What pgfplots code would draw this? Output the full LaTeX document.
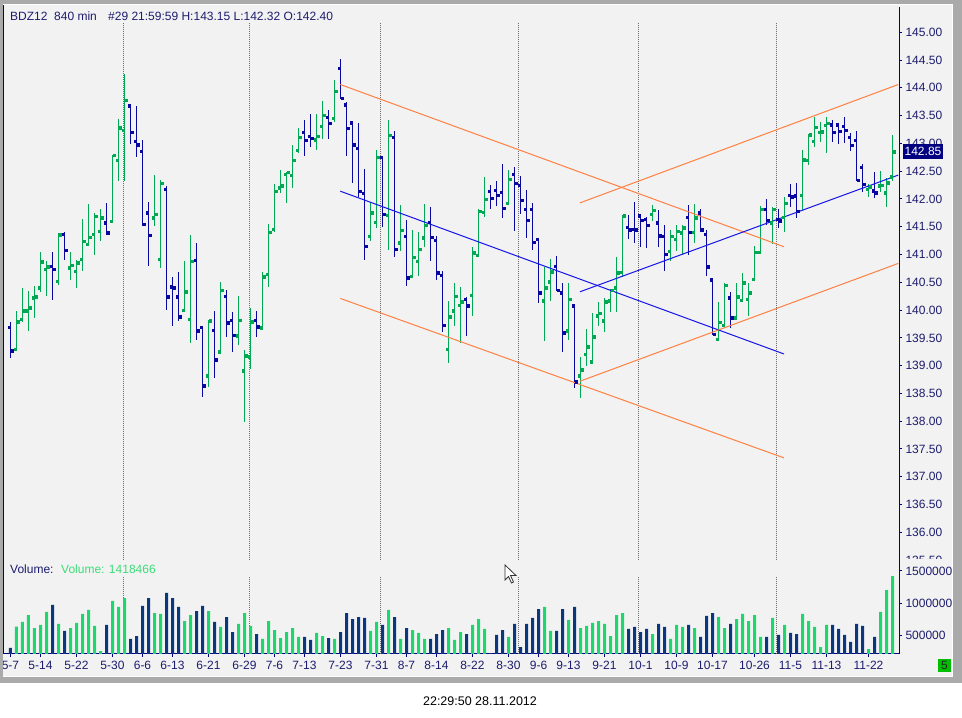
\documentclass[border=0pt]{standalone}
\usepackage{fontspec}
\setmainfont{Liberation Sans}
\usepackage{pgfplots}
\usepackage{pgfplotstable}
\pgfplotsset{compat=1.18}
\definecolor{bg}{RGB}{242,242,242}
\definecolor{framegray}{RGB}{170,170,170}
\definecolor{axisnavy}{RGB}{0,0,128}
\definecolor{txtnavy}{RGB}{28,28,110}
\definecolor{pgreen}{RGB}{0,168,84}
\definecolor{pblue}{RGB}{8,8,160}
\definecolor{vgreen}{RGB}{30,214,110}
\definecolor{vblue}{RGB}{10,55,125}
\definecolor{chorange}{RGB}{255,128,64}
\definecolor{chblue}{RGB}{20,20,235}
\definecolor{gridgray}{RGB}{110,110,110}
\definecolor{volgreentxt}{RGB}{60,220,120}
\definecolor{statusgreen}{RGB}{0,190,0}
\newcommand\tf{\fontsize{12}{14.4}\selectfont}

% up bars (close >= open): index, open, high, low, close, volume
\pgfplotstableread{
i o h l c v
1 139.30 139.99 139.29 139.79 634000
2 139.84 140.39 139.78 139.99 707000
3 139.99 140.35 139.62 140.04 815000
4 140.22 140.44 139.85 140.24 613000
5 140.40 141.05 140.32 140.87 660000
6 140.74 140.89 140.25 140.78 862000
8 140.52 141.39 140.46 141.36 676000
10 140.76 141.05 140.54 140.81 613000
11 140.70 140.91 140.39 140.85 691000
12 140.92 141.64 140.71 141.24 831000
13 141.19 141.91 141.16 141.31 893000
14 141.37 141.75 141.00 141.69 645000
15 141.42 141.82 141.25 141.66 256000
17 141.60 142.80 141.59 142.79 1033000
18 142.70 143.44 142.32 143.28 940000
19 143.24 144.25 142.32 143.78 1079000
24 141.66 142.43 141.52 141.73 846000
25 140.92 142.34 140.75 142.28 831000
29 140.00 140.89 139.96 140.33 722000
30 139.84 141.36 139.40 140.88 815000
33 138.82 139.82 138.61 139.81 877000
35 139.25 140.51 139.21 140.36 629000
38 139.54 140.26 139.37 139.82 676000
39 138.91 139.29 137.99 139.18 846000
40 139.16 140.04 138.94 139.79 645000
42 139.68 140.69 139.64 140.60 443000
43 140.65 141.55 140.41 141.40 722000
44 141.46 142.27 141.41 142.14 582000
45 142.20 142.53 142.11 142.24 458000
46 142.45 142.49 141.92 142.48 551000
47 142.43 142.97 142.20 142.70 613000
48 142.88 143.28 142.83 143.11 474000
51 143.07 143.53 142.88 143.13 536000
52 143.31 143.76 143.08 143.51 489000
54 143.45 144.14 143.38 143.94 443000
60 141.33 141.92 141.25 141.75 567000
61 141.58 142.88 141.47 142.75 707000
63 141.71 143.42 141.09 143.15 893000
65 141.21 141.89 141.07 141.44 443000
67 140.61 141.44 140.59 140.95 582000
68 140.88 141.40 140.62 141.10 536000
69 141.30 141.91 141.13 141.53 443000
73 139.30 140.16 139.04 139.88 613000
74 139.99 140.48 139.71 140.25 427000
75 140.09 140.42 139.40 140.15 551000
77 140.27 141.13 139.90 141.03 660000
78 140.99 141.82 140.98 141.78 753000
79 141.76 142.40 141.68 142.00 598000
83 141.92 142.52 141.90 142.36 474000
89 140.17 140.78 139.44 140.40 940000
90 140.51 140.92 140.16 140.69 567000
93 139.63 140.48 139.47 140.20 738000
95 138.82 139.15 138.41 138.93 613000
96 139.21 139.66 139.00 139.34 645000
97 139.07 139.95 139.03 139.52 691000
98 139.90 140.15 139.72 139.94 722000
99 139.81 140.21 139.60 140.15 676000
100 140.17 140.38 139.96 140.36 489000
101 140.40 140.95 139.96 140.67 815000
102 140.68 141.72 140.59 141.70 846000
107 141.73 141.90 141.61 141.80 520000
110 141.06 141.45 140.89 141.33 443000
111 141.28 141.54 141.06 141.42 660000
112 141.39 141.53 140.99 141.48 629000
114 141.40 141.91 141.21 141.66 613000
118 139.48 140.14 139.45 139.78 784000
119 139.73 140.48 139.72 140.45 613000
121 139.86 140.49 139.83 140.24 753000
122 140.18 140.66 140.17 140.49 831000
123 140.20 140.48 139.89 140.31 722000
124 140.56 141.16 140.53 141.04 815000
125 141.04 141.87 141.02 141.82 474000
127 141.57 141.86 141.19 141.82 769000
129 141.67 142.04 141.40 141.92 660000
132 142.07 142.88 141.80 142.71 831000
133 142.70 143.17 142.62 143.16 722000
134 143.04 143.48 142.93 143.29 629000
135 143.20 143.38 143.03 143.21 318000
136 143.33 143.48 142.83 143.36 660000
143 142.18 142.27 142.03 142.22 287000
145 142.24 142.50 142.13 142.25 862000
146 142.11 142.37 141.85 142.29 1203000
147 142.40 143.15 142.32 142.85 1418466
}\uptab

% down bars (close < open)
\pgfplotstableread{
i o h l c v
0 139.69 139.79 139.13 139.27 303000
7 140.79 141.05 140.19 140.74 971000
9 141.37 141.41 140.91 141.08 567000
16 141.57 141.93 141.36 141.39 660000
20 143.68 143.68 142.99 143.20 443000
21 143.04 143.68 142.76 142.98 489000
22 142.86 143.06 141.51 141.55 955000
23 141.75 141.95 140.80 141.35 1079000
26 142.18 142.24 140.01 140.24 1157000
27 140.42 140.60 139.71 140.40 1079000
28 140.24 140.69 139.80 139.88 940000
31 140.90 141.21 139.46 139.63 877000
32 139.69 139.72 138.43 138.64 955000
34 139.64 139.99 138.78 139.11 707000
36 140.25 140.37 139.51 139.77 784000
37 139.82 139.97 139.24 139.55 551000
41 139.82 139.99 139.51 139.70 520000
49 143.20 143.42 142.77 143.06 474000
50 143.13 143.53 142.94 143.09 427000
53 143.47 143.60 143.08 143.36 458000
55 144.35 144.52 143.80 143.81 551000
56 143.70 143.74 142.77 143.27 846000
57 143.37 143.38 142.28 142.98 753000
58 142.91 143.37 142.03 142.14 784000
59 142.10 142.54 140.91 141.15 769000
62 142.75 142.77 141.49 141.73 660000
64 143.11 143.22 140.95 141.10 784000
66 141.33 141.62 140.43 140.58 613000
70 141.58 141.85 140.88 141.31 443000
71 141.26 141.33 140.54 140.67 520000
72 140.63 140.71 139.60 139.73 582000
76 140.20 140.24 139.53 140.08 520000
80 142.14 142.25 141.82 142.01 225000
81 142.16 142.32 141.88 142.07 505000
82 142.12 142.63 141.65 141.83 582000
84 142.45 142.58 141.43 142.28 676000
85 142.25 142.42 141.73 141.98 318000
86 141.82 142.16 141.29 141.62 676000
87 141.82 141.92 141.09 141.22 769000
88 141.28 141.30 140.12 140.31 908000
91 140.79 140.98 140.34 140.36 567000
92 140.31 140.49 139.24 139.59 908000
94 140.08 140.09 138.60 138.71 940000
103 141.49 141.71 141.28 141.45 598000
104 141.46 141.95 141.20 141.45 629000
105 141.70 141.73 141.13 141.62 551000
106 141.64 141.67 141.12 141.53 598000
108 141.57 141.80 141.13 141.34 676000
109 141.33 141.54 140.71 141.01 629000
113 141.67 141.89 141.00 141.40 660000
115 141.75 141.82 141.41 141.45 474000
116 141.37 141.44 140.62 140.78 800000
117 140.55 140.58 139.55 139.57 846000
120 140.22 140.33 139.68 139.86 676000
126 141.82 142.00 141.54 141.62 474000
128 141.64 141.82 141.47 141.61 505000
130 142.07 142.27 141.86 142.04 536000
131 142.06 142.28 141.66 141.78 520000
137 143.34 143.42 143.02 143.20 660000
138 143.34 143.35 142.99 143.22 598000
139 143.31 143.47 143.00 143.24 505000
140 143.11 143.19 142.87 142.97 396000
141 143.06 143.23 142.33 142.34 676000
142 142.57 142.63 142.13 142.27 645000
144 142.15 142.49 142.01 142.11 474000
}\downtab

\pgfplotsset{
  hl/.style={only marks, mark=*, mark size=0pt, mark options={draw=none, fill=none}, forget plot,
    error bars/.cd, y dir=both, y explicit, error mark=none,
    error bar style={#1, line width=1pt, solid}},
  oc/.style={color=#1, only marks, mark=square*, mark size=1.25pt, forget plot,
    mark options={solid, draw=none, fill=#1}},
}

\begin{document}
\begin{tikzpicture}[x=1pt,y=1pt]
\useasboundingbox (0,0) rectangle (962,718);
\fill[white] (0,0) rectangle (962,718);
\fill[framegray] (0,35) rectangle (962,718);
\fill[white] (3,41) rectangle (953,714);
\fill[bg] (3,42) rectangle (952,713);

% ---------------- price panel ----------------
\begin{axis}[
  at={(4pt,156pt)}, anchor=south west,
  scale only axis, width=895pt, height=555pt,
  xmin=-1.0833, xmax=148.0833,
  ymin=135.4662, ymax=145.4554,
  axis x line=none, axis y line=right,
  y axis line style={-, draw=axisnavy, line width=1pt},
  xtick=\empty,
  ytick={135.5,136,136.5,137,137.5,138,138.5,139,139.5,140,140.5,141,141.5,142,142.5,143,143.5,144,144.5,145},
  tick align=outside, major tick length=3pt,
  ytick style={draw=axisnavy, line width=1pt},
  yticklabel style={font=\tf, text=txtnavy,
    /pgf/number format/.cd, fixed, fixed zerofill, precision=2, assume math mode=true},
]
\pgfplotsinvokeforeach{18.75,39.75,61.65,84.65,104.7,127.7}{
  \draw[gridgray, line width=1pt, dash pattern=on 1pt off 1pt] (axis cs:#1,135.502) -- (axis cs:#1,145.173);
}
% high-low lines
\addplot[hl=pgreen] table[x=i, y expr={(\thisrow{h}+\thisrow{l})/2}, y error expr={(\thisrow{h}-\thisrow{l})/2}] {\uptab};
\addplot[hl=pblue] table[x=i, y expr={(\thisrow{h}+\thisrow{l})/2}, y error expr={(\thisrow{h}-\thisrow{l})/2}] {\downtab};
% open (left) and close (right) ticks
\addplot[oc=pgreen] table[x expr={\thisrow{i}-0.25}, y=o] {\uptab};
\addplot[oc=pgreen] table[x expr={\thisrow{i}+0.25}, y=c] {\uptab};
\addplot[oc=pblue] table[x expr={\thisrow{i}-0.25}, y=o] {\downtab};
\addplot[oc=pblue] table[x expr={\thisrow{i}+0.25}, y=c] {\downtab};
% trend channels
\addplot[chorange, line width=1pt, forget plot] coordinates {(54.97,144.06) (128.92,141.14)};
\addplot[chorange, line width=1pt, forget plot] coordinates {(54.97,140.21) (128.92,137.34)};
\addplot[chblue, line width=1pt, forget plot] coordinates {(54.97,142.14) (128.92,139.21)};
\addplot[chorange, line width=1pt, forget plot] coordinates {(94.92,141.93) (147.95,144.06)};
\addplot[chorange, line width=1pt, forget plot] coordinates {(94.92,138.72) (147.95,140.84)};
\addplot[chblue, line width=1pt, forget plot] coordinates {(94.92,140.33) (147.95,142.43)};
\end{axis}

% cut the lowest price label as in the original
\fill[bg] (900,150) rectangle (952,158.5);

% ---------------- volume panel ----------------
\begin{axis}[
  at={(4pt,64pt)}, anchor=south west,
  scale only axis, width=895pt, height=92pt,
  xmin=-1.0833, xmax=148.0833,
  ymin=209626, ymax=1638202,
  axis x line=bottom, axis y line=right,
  x axis line style={-, draw=axisnavy, line width=1pt},
  y axis line style={-, draw=axisnavy, line width=1pt},
  xtick={0,5,11,17,22,27,33,39,44,49,55,61,66,71,77,83,88,93,99,105,111,117,124,130,136,143},
  xticklabels={5-7,5-14,5-22,5-30,6-6,6-13,6-21,6-29,7-6,7-13,7-23,7-31,8-7,8-14,8-22,8-30,9-6,9-13,9-21,10-1,10-9,10-17,10-26,11-5,11-13,11-22},
  ytick={500000,1000000,1500000},
  scaled y ticks=false,
  tick align=outside, major tick length=3pt,
  tick style={draw=axisnavy, line width=1pt},
  xticklabel style={font=\tf, text=txtnavy, yshift=-1pt},
  yticklabel style={font=\tf, text=txtnavy,
    /pgf/number format/.cd, fixed, precision=0, 1000 sep={}, assume math mode=true},
]
\pgfplotsinvokeforeach{18.75,39.75,61.65,84.65,104.7,127.7}{
  \draw[gridgray, line width=1pt, dash pattern=on 1pt off 1pt] (axis cs:#1,209626) -- (axis cs:#1,1405300);
}
\addplot[ybar, bar width=3pt, bar shift=0pt, fill=vgreen, draw=none] table[x=i, y=v] {\uptab};
\addplot[ybar, bar width=3pt, bar shift=0pt, fill=vblue, draw=none] table[x=i, y=v] {\downtab};
\end{axis}

% left frame band and left axis line
\fill[framegray] (0,35) rectangle (3,718);
\draw[axisnavy, line width=1.2pt] (3.8,64) -- (3.8,713);

% title and panel labels
\node[anchor=base west, inner sep=0, text=txtnavy, font=\tf] at (10,697.6) {BDZ12};
\node[anchor=base west, inner sep=0, text=txtnavy, font=\tf] at (54,697.6) {840 min};
\node[anchor=base west, inner sep=0, text=txtnavy, font=\tf] at (108,697.6) {\#29 21:59:59 H:143.15 L:142.32 O:142.40};
\node[anchor=base west, inner sep=0, text=txtnavy, font=\tf] at (10,144.7) {Volume:};
\node[anchor=base west, inner sep=0, text=volgreentxt, font=\tf] at (61,144.7) {Volume: 1418466};

% current price marker
\fill[axisnavy] (903,559) rectangle (943,574);
\node[anchor=center, inner sep=0, text=white, font=\tf] at (923,566.5) {142.85};

% status box
\fill[statusgreen] (938,46) rectangle (951,59);
\node[anchor=center, inner sep=0, text=black!85, font=\tf] at (944.5,52.5) {5};

% mouse pointer
\filldraw[fill=white, draw=black!80, line width=0.8pt]
  (505,153) -- (505,138) -- (508.5,141.5) -- (511.5,135) -- (513.5,136) -- (510.5,142.5) -- (516,142.5) -- cycle;

% time stamp
\node[anchor=base, inner sep=0, text=black, font=\fontsize{12.5}{15}\selectfont] at (480,12.3) {22:29:50 28.11.2012};
\end{tikzpicture}
\end{document}
